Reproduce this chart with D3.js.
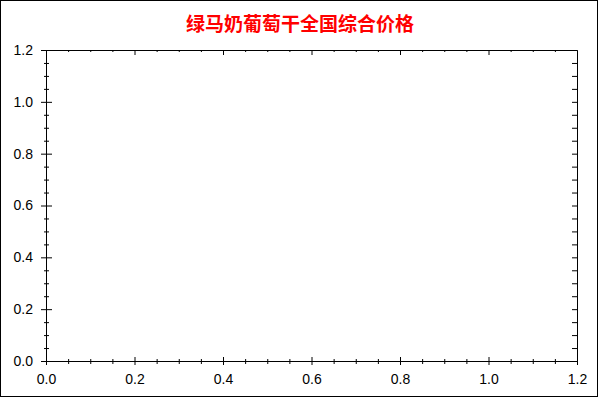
<!DOCTYPE html>
<html>
<head>
<meta charset="utf-8">
<script src="https://cdn.jsdelivr.net/npm/d3@7"></script>
<style>
  body { margin: 0; background: #fff; }
  svg { display: block; }
  .tickLabel text { font-family: "Liberation Sans", Arial, sans-serif; font-size: 14px; fill: #000; }
  .domain, .tick line { stroke: #000; stroke-width: 1; }
</style>
</head>
<body>
<svg></svg>
<script>
var svgWidth = 600;
var svgHeight = 400;

// chart has no data points, only the empty frame
var dates = [];
var prices = [];
var xTicks = [0, 0.2, 0.4, 0.6, 0.8, 1.0, 1.2];
var yTicks = [0, 0.2, 0.4, 0.6, 0.8, 1.0, 1.2];
var minorTicks = [0.05, 0.1, 0.15, 0.25, 0.3, 0.35, 0.45, 0.5, 0.55, 0.65, 0.7, 0.75,
                  0.85, 0.9, 0.95, 1.05, 1.1, 1.15];
var titleText = '绿马奶葡萄干全国综合价格';

var plotLeft = 46, plotRight = 577, plotTop = 50, plotBottom = 361;

var svg = d3.select('svg').attr('width', svgWidth).attr('height', svgHeight);

svg.append('rect')
   .attr('x', 0.5).attr('y', 0.5)
   .attr('width', 597).attr('height', 396)
   .attr('fill', '#fff').attr('stroke', '#000');

var xScale = d3.scaleLinear().domain([0, 1.2]).range([plotLeft, plotRight]);
var yScale = d3.scaleLinear().domain([0, 1.2]).range([plotBottom, plotTop]);

var fmt = d3.format('.1f');

// left axis: ticks cross the line
svg.append('g').attr('class', 'tickLabel')
   .attr('transform', 'translate(' + plotLeft + ',0)')
   .call(d3.axisLeft(yScale).tickValues(yTicks).tickFormat(fmt).tickSize(5).tickSizeOuter(0).tickPadding(8));
svg.append('g')
   .attr('transform', 'translate(' + plotLeft + ',0)')
   .call(d3.axisRight(yScale).tickValues(yTicks.slice(0, -1)).tickFormat('').tickSize(6).tickSizeOuter(0));
svg.append('g')
   .attr('transform', 'translate(' + plotLeft + ',0)')
   .call(d3.axisLeft(yScale).tickValues(minorTicks).tickFormat('').tickSize(2).tickSizeOuter(0));
svg.append('g')
   .attr('transform', 'translate(' + plotLeft + ',0)')
   .call(d3.axisRight(yScale).tickValues(minorTicks).tickFormat('').tickSize(3).tickSizeOuter(0));

// bottom axis: ticks cross the line
svg.append('g').attr('class', 'tickLabel')
   .attr('transform', 'translate(0,' + plotBottom + ')')
   .call(d3.axisBottom(xScale).tickValues(xTicks).tickFormat(fmt).tickSize(4).tickSizeOuter(0).tickPadding(9.5));
svg.append('g')
   .attr('transform', 'translate(0,' + plotBottom + ')')
   .call(d3.axisTop(xScale).tickValues(xTicks.slice(1)).tickFormat('').tickSize(4).tickSizeOuter(0));
svg.append('g')
   .attr('transform', 'translate(0,' + plotBottom + ')')
   .call(d3.axisBottom(xScale).tickValues(minorTicks).tickFormat('').tickSize(3).tickSizeOuter(0));
svg.append('g')
   .attr('transform', 'translate(0,' + plotBottom + ')')
   .call(d3.axisTop(xScale).tickValues(minorTicks).tickFormat('').tickSize(2).tickSizeOuter(0));

// top axis: ticks point inward
svg.append('g')
   .attr('transform', 'translate(0,' + plotTop + ')')
   .call(d3.axisBottom(xScale).tickValues(xTicks.slice(1, -1)).tickFormat('').tickSize(5).tickSizeOuter(0));
svg.append('g')
   .attr('transform', 'translate(0,' + plotTop + ')')
   .call(d3.axisBottom(xScale).tickValues(minorTicks).tickFormat('').tickSize(2).tickSizeOuter(0));

// right axis: ticks point inward
svg.append('g')
   .attr('transform', 'translate(' + plotRight + ',0)')
   .call(d3.axisLeft(yScale).tickValues(yTicks.slice(1, -1).concat(minorTicks)).tickFormat('').tickSize(5).tickSizeOuter(0));

// series (empty in the source)
svg.append('path')
   .datum(dates.map(function(d, i){ return [d, prices[i]]; }))
   .attr('fill', 'none').attr('stroke', '#c00')
   .attr('d', d3.line().x(function(d){ return xScale(d[0]); }).y(function(d){ return yScale(d[1]); }));

svg.append('text')
   .text(titleText)
   .attr('x', 300)
   .attr('y', 31)
   .attr('text-anchor', 'middle')
   .style('font-family', '"Noto Sans CJK SC", sans-serif')
   .style('font-size', '19px')
   .style('font-weight', 'bold')
   .style('fill', '#ff0000');
</script>
</body>
</html>
